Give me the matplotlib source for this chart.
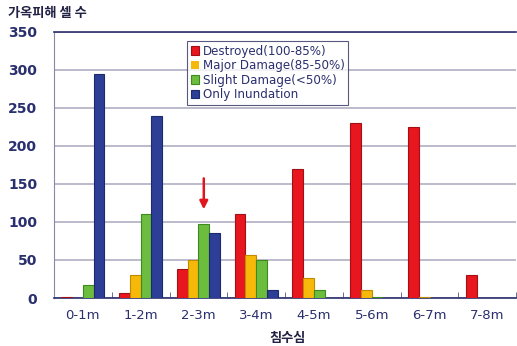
import matplotlib
matplotlib.use("Agg")
import matplotlib.pyplot as plt
import numpy as np

categories = ["0-1m", "1-2m", "2-3m", "3-4m", "4-5m", "5-6m", "6-7m", "7-8m"]
destroyed = [1, 6, 38, 110, 170, 230, 225, 30]
major = [0, 30, 50, 56, 26, 10, 1, 0]
slight = [17, 110, 97, 50, 10, 1, 0, 0]
inundation = [295, 240, 85, 10, 0, 0, 0, 0]
series_labels = ["Destroyed(100-85%)", "Major Damage(85-50%)",
                 "Slight Damage(<50%)", "Only Inundation"]
yticks = [0, 50, 100, 150, 200, 250, 300, 350]

face_colors = ["#E8161E", "#F6B90A", "#6CBD3E", "#2D3E96"]
edge_colors = ["#A01015", "#C08A00", "#3E8A1E", "#1C2A70"]
navy = "#2A2F6E"

fig = plt.figure(figsize=(5.17, 3.46), dpi=100)
ax = fig.add_axes([0.1044, 0.1387, 0.894, 0.769])

x = np.arange(len(categories))
w = 0.186
all_series = [destroyed, major, slight, inundation]
for i, (vals, lab) in enumerate(zip(all_series, series_labels)):
    lw = [0.8 if v > 0 else 0.0 for v in vals]
    ax.bar(x + (i - 1.5) * w, vals, width=w, color=face_colors[i],
           edgecolor=edge_colors[i], linewidth=lw, label=lab, zorder=3)

ax.set_xlim(-0.5, len(categories) - 0.5)
ax.set_ylim(0, 350)
ax.set_yticks(yticks)
ax.set_yticklabels([str(t) for t in yticks], fontsize=10, fontweight="bold",
                   color=navy)
ax.set_xticks(x)
ax.set_xticklabels(categories, fontsize=9.5, color=navy)
ax.set_xticks(np.arange(-0.5, len(categories), 1.0), minor=True)
ax.tick_params(axis="x", which="major", length=0, pad=8)
ax.tick_params(axis="x", which="minor", length=4, color="#555577", direction="in")
ax.tick_params(axis="y", length=0, pad=12)

ax.grid(axis="y", color="#A8A8BE", linewidth=1.1, zorder=0)
ax.spines["right"].set_visible(False)
ax.spines["top"].set_color(navy)
ax.spines["top"].set_linewidth(1.2)
ax.spines["left"].set_color("#8888AA")
ax.spines["bottom"].set_color(navy)
ax.spines["bottom"].set_linewidth(1.2)

# arrow over the green bar of the 2-3m group
ax.annotate("", xy=(2 + 0.5 * w, 113), xytext=(2 + 0.5 * w, 161),
            arrowprops=dict(arrowstyle="-|>", color="#E0161E", lw=1.8,
                            mutation_scale=12), zorder=5)

leg = ax.legend(loc="upper left", bbox_to_anchor=(0.288, 0.965), fontsize=8.6,
                frameon=True, fancybox=False, edgecolor="#303060",
                handlelength=0.7, handleheight=0.7, handletextpad=0.3,
                borderpad=0.3, labelspacing=0.12, borderaxespad=0)
leg.get_frame().set_linewidth(0.8)
for t in leg.get_texts():
    t.set_color(navy)

kfont = ["Noto Sans CJK KR", "DejaVu Sans"]
fig.text(0.016, 0.962, "가옥피해 셀 수", fontsize=9.5, fontweight="bold",
         color="#222244", family=kfont, va="center", ha="left")
fig.text(0.556, 0.022, "침수심", fontsize=9.5, fontweight="bold",
         color="#222244", family=kfont, va="center", ha="center")

fig.savefig("out.png", dpi=100)
